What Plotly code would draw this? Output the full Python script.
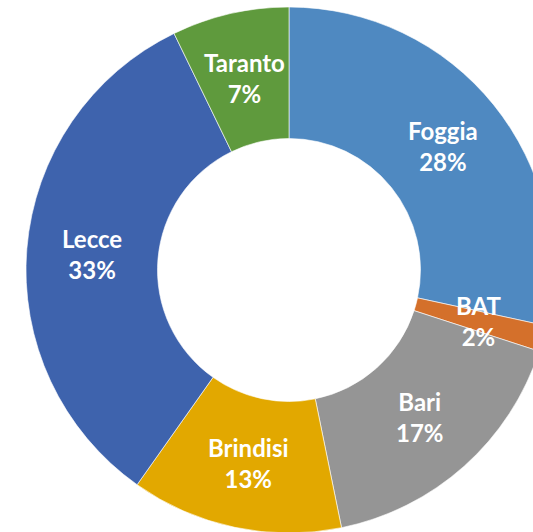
import math
import plotly.graph_objects as go

provinces = ["Foggia", "BAT", "Bari", "Brindisi", "Lecce", "Taranto"]
shares = [28.4, 1.6, 16.8, 13.0, 33.0, 7.2]
slice_colors = ["#4F89C1", "#D4702B", "#959595", "#E2A800", "#3E63AD", "#5F9A3D"]

HOLE = 0.5

fig = go.Figure(
    go.Pie(
        labels=provinces,
        values=shares,
        sort=False,
        direction="clockwise",
        rotation=0,
        hole=HOLE,
        marker=dict(colors=slice_colors, line=dict(color="#FFFFFF", width=0.6)),
        textinfo="none",
        showlegend=False,
        hoverinfo="label+percent",
        domain=dict(x=[0, 1], y=[0, 1]),
    )
)

# Data labels placed at each slice's mid-angle, in the middle of the ring
total = sum(shares)
cum = 0.0
r_mid = 0.5 * (1 + HOLE) / 2  # in paper units (square plot area)
annotations = []
for name, v in zip(provinces, shares):
    mid = (cum + v / 2) / total * 2 * math.pi
    cum += v
    pct = round(v / total * 100)
    annotations.append(
        dict(
            x=0.5 + r_mid * math.sin(mid),
            y=0.5 + r_mid * math.cos(mid),
            xref="paper",
            yref="paper",
            text=f"<b>{name}</b><br><b>{pct}%</b>",
            showarrow=False,
            xanchor="center",
            yanchor="middle",
            align="center",
            font=dict(family="Lato", size=24, color="#FFFFFF"),
        )
    )

fig.update_layout(
    width=560,
    height=540,
    margin=dict(l=26, r=8, t=7, b=7),
    paper_bgcolor="#FFFFFF",
    plot_bgcolor="#FFFFFF",
    annotations=annotations,
)

fig.write_html(
    "out.html",
    config={"displayModeBar": False},
    post_script="document.body.style.margin='0';document.documentElement.style.overflow='hidden';document.body.style.overflow='hidden';",
)
